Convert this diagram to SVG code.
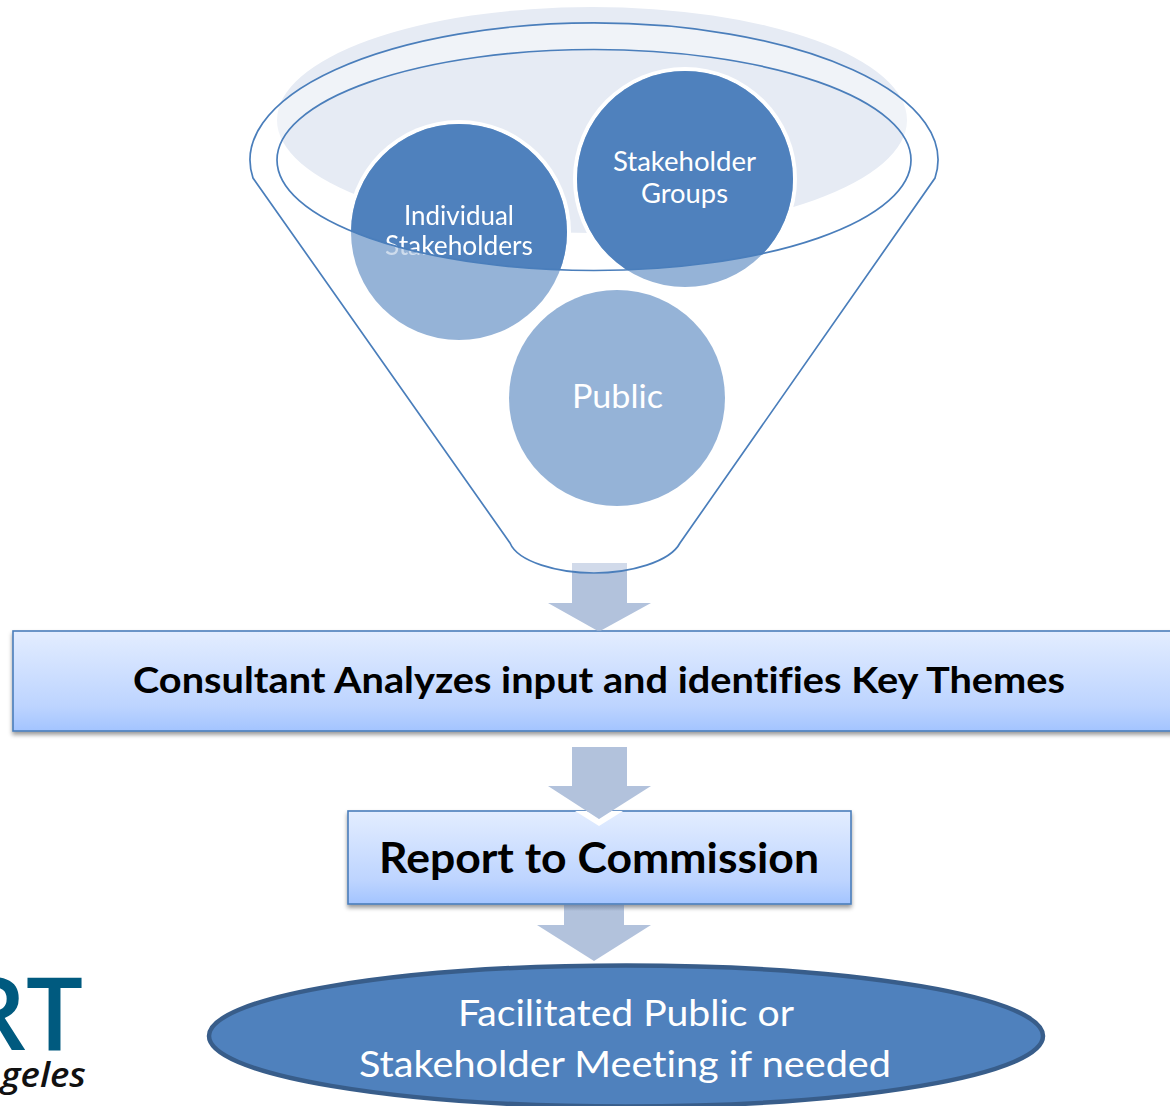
<svg xmlns="http://www.w3.org/2000/svg" width="1170" height="1106" viewBox="0 0 1170 1106">
<style>
text{font-family:Lato,"Open Sans","Liberation Sans",sans-serif;text-anchor:middle;font-variant-ligatures:none}
.w{fill:#fff}
.b{fill:#000;font-weight:700}
.arrow{fill:#b2c2dc}
.line{fill:none;stroke:#4a7ebb;stroke-width:1.7}
.box{fill:url(#g);stroke:#4a7ebb;stroke-width:1.6;filter:url(#s)}
</style>
<defs>
<linearGradient id="g" x1="0" y1="0" x2="0" y2="1"><stop offset="0" stop-color="#e3edff"/><stop offset=".75" stop-color="#bdd4ff"/><stop offset="1" stop-color="#a3c4ff"/></linearGradient>
<linearGradient id="a3" gradientUnits="userSpaceOnUse" x1="0" y1="905" x2="0" y2="911"><stop offset="0" stop-color="#7f8ea6"/><stop offset="1" stop-color="#b2c2dc"/></linearGradient>
<filter id="s" x="-5%" y="-10%" width="110%" height="125%"><feDropShadow dx="0" dy="3" stdDeviation="2" flood-color="#000" flood-opacity=".4"/></filter>
<clipPath id="inner"><ellipse cx="594" cy="160" rx="317" ry="110.500"/></clipPath>
<mask id="fade" maskUnits="userSpaceOnUse" x="0" y="0" width="1170" height="1106"><rect width="1170" height="1106" fill="#8a8a8a"/><ellipse cx="594" cy="160" rx="317" ry="110.500" fill="#fff"/></mask>
</defs>
<rect width="1170" height="1106" fill="#fff"/>
<ellipse cx="592" cy="120" rx="315" ry="113" fill="#e6ebf4"/>
<g id="analyze">
<rect class="box" x="13" y="631" width="1175" height="100"/>
<text class="b" x="599" y="693" font-size="37" textLength="932" lengthAdjust="spacingAndGlyphs">Consultant Analyzes input and identifies Key Themes</text>
</g>
<g id="report">
<rect class="box" x="348" y="811" width="503" height="93"/>
<text class="b" x="599" y="873" font-size="42" textLength="440" lengthAdjust="spacingAndGlyphs">Report to Commission</text>
<path d="M575 811H587L599 819L611 811H623L599 826Z" fill="#fff"/>
</g>
<g id="connectors">
<path id="arrow1" class="arrow" d="M572 563H627V603H651L601 630.500H597L548 603H572Z"/>
<path id="arrow2" class="arrow" d="M572 747H627V786H651L599 819L548 786H572Z"/>
<path id="arrow3" style="fill:url(#a3)" d="M564 905H624V925H651L594 961L537 925H564Z"/>
</g>
<path d="M253 178A344 137 0 1 1 935 178L680 543C670 562 630 573 594 573C558 573 518 562 510 543Z M277 160a317 110.500 0 1 0 634 0a317 110.500 0 1 0 -634 0Z" fill="#fff" fill-opacity=".4" fill-rule="evenodd"/>
<g id="individual">
<circle cx="459" cy="232" r="112" fill="#fff" clip-path="url(#inner)"/>
<circle cx="459" cy="232" r="108" fill="#95b3d7"/>
<circle cx="459" cy="232" r="108" fill="#4f81bd" clip-path="url(#inner)"/>
<g mask="url(#fade)"><text class="w" x="459" y="225" font-size="26" textLength="110" lengthAdjust="spacingAndGlyphs">Individual</text><text class="w" x="459" y="255" font-size="26" textLength="148" lengthAdjust="spacingAndGlyphs">Stakeholders</text></g>
</g>
<g id="groups">
<circle cx="685" cy="179" r="112" fill="#fff" clip-path="url(#inner)"/>
<circle cx="685" cy="179" r="108" fill="#95b3d7"/>
<circle cx="685" cy="179" r="108" fill="#4f81bd" clip-path="url(#inner)"/>
<text class="w" x="684.500" y="171" font-size="26" textLength="143" lengthAdjust="spacingAndGlyphs">Stakeholder</text><text class="w" x="684.500" y="203" font-size="26" textLength="87" lengthAdjust="spacingAndGlyphs">Groups</text>
</g>
<g id="public">
<circle cx="617" cy="398" r="108" fill="#95b3d7"/>
<text class="w" x="617.500" y="408" font-size="33" textLength="91" lengthAdjust="spacingAndGlyphs">Public</text>
</g>
<g id="funnel">
<path class="line" d="M253 178A344 137 0 1 1 935 178L680 543C670 562 630 573 594 573C558 573 518 562 510 543Z"/>
<ellipse class="line" cx="594" cy="160" rx="317" ry="110.500"/>
</g>
<g id="meeting">
<ellipse cx="626" cy="1036" rx="417" ry="70.500" fill="#4f81bd" stroke="#385d8a" stroke-width="4.500"/>
<text class="w" x="626" y="1026" font-size="37" textLength="336" lengthAdjust="spacingAndGlyphs">Facilitated Public or</text>
<text class="w" x="625" y="1077" font-size="37" textLength="532" lengthAdjust="spacingAndGlyphs">Stakeholder Meeting if needed</text>
</g>
<g id="logo">
<text x="83" y="1050" font-size="101" font-weight="600" fill="#005a7f" style="text-anchor:end;font-family:'Open Sans',sans-serif">RT</text>
<text x="86" y="1087" font-size="35" font-weight="600" font-style="italic" fill="#111" textLength="85" lengthAdjust="spacingAndGlyphs" style="text-anchor:end;font-family:'Open Sans',sans-serif">geles</text>
</g>
</svg>
